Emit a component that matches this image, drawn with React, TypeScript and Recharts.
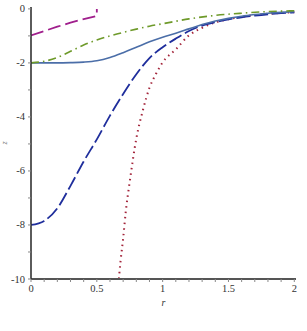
import React from "react";
import { LineChart, Line, XAxis, YAxis } from "recharts";

const purpleR = [0, 0.1, 0.2, 0.3, 0.4, 0.5, 0.5];
const purpleZ = [-0.98, -0.82, -0.66, -0.51, -0.38, -0.26, 0];

const greenR = [0, 0.1, 0.2, 0.3, 0.4, 0.5, 0.6, 0.7, 0.8, 0.9, 1.0, 1.2, 1.4, 1.6, 1.8, 2.0];
const greenZ = [-2.0, -1.94, -1.8, -1.57, -1.34, -1.15, -1.0, -0.87, -0.75, -0.64, -0.55, -0.37, -0.24, -0.16, -0.1, -0.07];

const blueR = [0, 0.1, 0.2, 0.3, 0.4, 0.5, 0.6, 0.7, 0.8, 0.9, 1.0, 1.1, 1.2, 1.3, 1.4, 1.5, 1.6, 1.7, 1.8, 1.9, 2.0];
const blueZ = [-2, -2, -2, -1.99, -1.97, -1.92, -1.8, -1.62, -1.42, -1.22, -1.05, -0.9, -0.74, -0.58, -0.45, -0.35, -0.27, -0.21, -0.16, -0.13, -0.1];

const navyR = [0, 0.1, 0.2, 0.3, 0.4, 0.5, 0.6, 0.7, 0.8, 0.9, 1.0, 1.1, 1.2, 1.3, 1.4, 1.5, 1.6, 1.7, 1.8, 1.9, 2.0];
const navyZ = [-8, -7.85, -7.38, -6.55, -5.65, -4.83, -3.95, -3.15, -2.42, -1.82, -1.42, -1.1, -0.82, -0.62, -0.49, -0.39, -0.31, -0.25, -0.2, -0.16, -0.13];

const redR = [0.66, 0.68, 0.7, 0.72, 0.75, 0.8, 0.85, 0.9, 0.95, 1.0, 1.1, 1.2, 1.3, 1.4, 1.5, 1.6, 1.7, 1.8, 1.9, 2.0];
const redZ = [-10.4, -9.35, -8.5, -7.5, -6.4, -4.8, -3.75, -2.92, -2.4, -1.98, -1.5, -0.98, -0.7, -0.5, -0.38, -0.29, -0.23, -0.18, -0.15, -0.12];

const xTicks = [0, 0.1, 0.2, 0.3, 0.4, 0.5, 0.6, 0.7, 0.8, 0.9, 1, 1.1, 1.2, 1.3, 1.4, 1.5, 1.6, 1.7, 1.8, 1.9, 2];
const xLabeled = [0, 0.5, 1, 1.5, 2];
const yTicks = [-10, -9, -8, -7, -6, -5, -4, -3, -2, -1, 0];
const yLabeled = [-10, -8, -6, -4, -2, 0];

const toData = (r: number[], z: number[]) => r.map((v, i) => ({ r: v, z: z[i] }));

const FONT = "Liberation Serif, DejaVu Serif, serif";

const XTick = (props: any) => {
  const { x, y, payload } = props;
  const v = payload.value;
  const labeled = xLabeled.some((t) => Math.abs(t - v) < 1e-6);
  if (!labeled) return null;
  return (
    <text x={x} y={y + 8} textAnchor="middle" style={{ fontFamily: FONT, fontSize: 10.5 }} fill="#333">
      {String(v)}
    </text>
  );
};

const YTick = (props: any) => {
  const { x, y, payload } = props;
  const v = payload.value;
  if (!yLabeled.includes(v)) return null;
  return (
    <text x={x - 1} y={y + 3.5} textAnchor="end" style={{ fontFamily: FONT, fontSize: 10.5 }} fill="#333">
      {String(v)}
    </text>
  );
};

export default function App() {
  return (
    <div style={{ position: "absolute", left: 0, top: 0, width: 307, height: 331, background: "#fff" }}>
      <LineChart width={307} height={331} margin={{ top: 7, right: 11, bottom: 22, left: 0 }}>
        <XAxis
          xAxisId="main"
          type="number"
          dataKey="r"
          domain={[0, 2.013]}
          ticks={xTicks}
          interval={0}
          allowDataOverflow
          height={30}
          tickSize={3}
          tickLine={{ stroke: "#888", strokeWidth: 1 }}
          tick={<XTick />}
          axisLine={{ stroke: "#555", strokeWidth: 2 }}
          label={{
            content: (p: any) => (
              <text
                x={p.viewBox.x + p.viewBox.width / 2}
                y={p.viewBox.y + 27}
                textAnchor="middle"
                style={{ fontFamily: FONT, fontStyle: "italic", fontSize: 10 }}
                fill="#333"
              >
                r
              </text>
            ),
          }}
        />
        <XAxis
          xAxisId="top"
          orientation="top"
          type="number"
          domain={[0, 2.013]}
          height={0}
          tick={false}
          tickLine={false}
          axisLine={{ stroke: "#333", strokeWidth: 1.2 }}
        />
        <YAxis
          yAxisId="main"
          type="number"
          domain={[-10, 0.07]}
          ticks={yTicks}
          interval={0}
          allowDataOverflow
          width={31}
          tickSize={3}
          tickLine={{ stroke: "#888", strokeWidth: 1 }}
          tick={<YTick />}
          axisLine={{ stroke: "#333", strokeWidth: 1.6 }}
          label={{
            content: (p: any) => (
              <text
                x={7}
                y={p.viewBox.y + p.viewBox.height / 2}
                textAnchor="middle"
                style={{ fontFamily: FONT, fontStyle: "italic", fontSize: 8 }}
                fill="#777"
                transform={`rotate(-90, 7, ${p.viewBox.y + p.viewBox.height / 2})`}
              >
                z
              </text>
            ),
          }}
        />
        <YAxis
          yAxisId="right"
          orientation="right"
          type="number"
          domain={[-10, 0.07]}
          width={0}
          tick={false}
          tickLine={false}
          axisLine={{ stroke: "#888", strokeWidth: 1 }}
        />
        <Line
          xAxisId="main"
          yAxisId="main"
          data={toData(redR, redZ)}
          dataKey="z"
          type="monotone"
          stroke="#A3243A"
          strokeWidth={2}
          strokeDasharray="1.5 4"
          dot={false}
          isAnimationActive={false}
        />
        <Line
          xAxisId="main"
          yAxisId="main"
          data={toData(navyR, navyZ)}
          dataKey="z"
          type="monotone"
          stroke="#1F2E9C"
          strokeWidth={1.8}
          strokeDasharray="14 4"
          dot={false}
          isAnimationActive={false}
        />
        <Line
          xAxisId="main"
          yAxisId="main"
          data={toData(blueR, blueZ)}
          dataKey="z"
          type="monotone"
          stroke="#4B6EA8"
          strokeWidth={1.6}
          dot={false}
          isAnimationActive={false}
        />
        <Line
          xAxisId="main"
          yAxisId="main"
          data={toData(greenR, greenZ)}
          dataKey="z"
          type="monotone"
          stroke="#6E9A2A"
          strokeWidth={1.6}
          strokeDasharray="8 4 1.5 4"
          dot={false}
          isAnimationActive={false}
        />
        <Line
          xAxisId="main"
          yAxisId="main"
          data={toData(purpleR, purpleZ)}
          dataKey="z"
          type="linear"
          stroke="#A01E8C"
          strokeWidth={1.8}
          strokeDasharray="13 5"
          dot={false}
          isAnimationActive={false}
        />
      </LineChart>
    </div>
  );
}
